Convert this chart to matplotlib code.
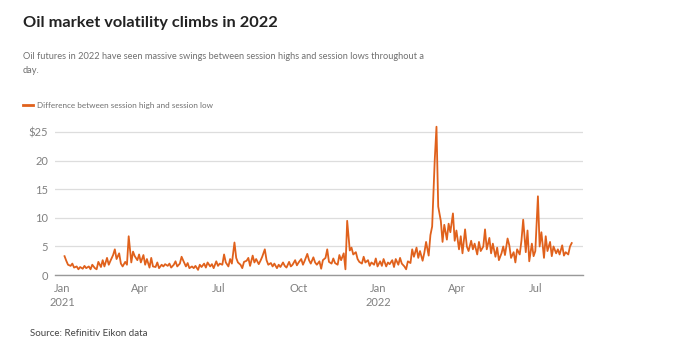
import matplotlib
matplotlib.use("Agg")
import matplotlib.pyplot as plt
import pandas as pd

# Values (Mon/Wed/Fri sampling), US$ per barrel
m2021 = {
    1: [3.3, 2.5, 1.8, 1.6, 2.0, 1.3, 1.5, 1.0, 1.4, 1.1, 1.6, 1.2],
    2: [1.5, 1.0, 1.8, 1.2, 1.0, 2.3, 1.4, 2.6, 1.5, 3.0, 1.8, 2.5],
    3: [3.5, 4.5, 2.8, 3.8, 2.0, 1.5, 2.3, 1.8, 6.8, 2.2, 4.1, 3.3, 2.6, 3.6],
    4: [2.2, 3.5, 1.8, 2.8, 1.3, 3.0, 1.5, 1.4, 2.2, 1.2, 1.8, 1.5, 1.9],
    5: [1.6, 2.0, 1.3, 1.8, 2.4, 1.5, 2.0, 3.2, 2.5, 1.5, 2.1, 1.2, 1.5],
    6: [1.2, 1.6, 0.9, 1.8, 1.4, 2.0, 1.3, 2.2, 1.5, 1.9, 1.2, 2.4, 1.6],
    7: [2.0, 1.8, 3.6, 2.2, 1.5, 2.8, 2.0, 5.7, 3.0, 2.2, 1.8, 1.2, 2.3],
    8: [2.5, 3.0, 1.6, 3.4, 2.2, 2.8, 1.9, 2.5, 3.2, 4.5, 2.6, 1.8, 2.1],
    9: [1.5, 2.0, 1.2, 1.8, 1.4, 2.2, 1.6, 1.3, 2.3, 1.5, 1.8, 2.6, 1.7],
    10: [2.2, 2.8, 1.8, 2.5, 3.7, 2.6, 2.0, 3.1, 2.2, 1.8, 2.4, 1.1, 2.6],
    11: [3.0, 4.5, 2.3, 2.0, 2.9, 2.1, 1.8, 3.5, 2.6, 3.8, 1.0, 9.5, 4.3],
    12: [4.8, 3.6, 4.0, 2.8, 2.3, 2.0, 3.2, 2.2, 2.6, 1.6, 2.2, 1.8, 2.9, 1.5],
}
m2022 = {
    1: [2.4, 1.6, 2.8, 1.5, 2.2, 1.9, 2.6, 1.4, 2.8, 1.8, 3.0, 2.0, 1.5],
    2: [1.0, 2.4, 2.1, 4.5, 3.2, 4.8, 3.0, 4.2, 2.5, 3.9, 5.8, 3.4],
    3: [7.0, 8.5, 20.2, 26.0, 12.0, 9.5, 5.8, 8.8, 6.2, 9.0, 7.5, 10.8, 6.0],
    4: [7.8, 4.5, 6.8, 3.8, 8.0, 5.0, 4.2, 6.0, 4.5, 5.5, 3.6, 5.8, 4.2],
    5: [5.0, 8.0, 4.5, 6.5, 3.8, 5.5, 3.2, 4.8, 2.6, 3.8, 5.0, 3.5, 6.4],
    6: [5.2, 3.0, 4.0, 2.2, 4.5, 3.6, 6.0, 9.7, 4.0, 7.8, 2.4, 5.5, 3.3],
    7: [4.2, 13.8, 5.0, 7.5, 3.0, 6.8, 4.2, 5.8, 3.3, 5.0, 3.8, 4.5, 3.6],
    8: [5.2, 3.4, 4.0, 3.6, 5.0, 5.6],
}

all_days = pd.bdate_range("2021-01-04", "2022-08-12")
mwf = all_days[all_days.weekday.isin([0, 2, 4])]

dates, values = [], []
for year, months in ((2021, m2021), (2022, m2022)):
    for month, vals in months.items():
        md = mwf[(mwf.year == year) & (mwf.month == month)]
        n = min(len(md), len(vals))
        dates.extend(md[:n])
        values.extend(vals[:n])

yticks = [0, 5, 10, 15, 20, 25]
ytick_labels = ["0", "5", "10", "15", "20", "$25"]
xtick_dates = ["2021-01-01", "2021-04-01", "2021-07-01", "2021-10-01",
               "2022-01-01", "2022-04-01", "2022-07-01"]
xtick_labels = ["Jan\n2021", "Apr", "Jul", "Oct", "Jan\n2022", "Apr", "Jul"]

title = "Oil market volatility climbs in 2022"
subtitle = ("Oil futures in 2022 have seen massive swings between session highs and session lows throughout a\n"
            "day.")
legend_label = "Difference between session high and session low"
source = "Source: Refinitiv Eikon data"

ORANGE = "#e0611c"
plt.rcParams["font.family"] = ["Lato", "DejaVu Sans"]

fig = plt.figure(figsize=(7.0, 3.55), dpi=100)
ax = fig.add_axes([55 / 700, 1 - 275 / 355, (583 - 55) / 700, (275 - 125) / 355])

ax.plot(pd.to_datetime(dates), values, color=ORANGE, lw=1.3, solid_joinstyle="round")

ax.set_ylim(0, 26.3)
x0 = pd.Timestamp("2021-01-01")
ax.set_xlim(x0 - pd.Timedelta(days=8), pd.Timestamp("2022-08-25"))

ax.set_yticks(yticks)
ax.set_yticklabels(ytick_labels)
ax.set_xticks(pd.to_datetime(xtick_dates))
ax.set_xticklabels(xtick_labels, linespacing=1.25)
ax.tick_params(axis="both", length=0, labelsize=8, colors="#808080")
ax.tick_params(axis="y", pad=5)
ax.tick_params(axis="x", pad=6)
for lab in ax.get_xticklabels():
    lab.set_horizontalalignment("center")
    lab.set_verticalalignment("top")

ax.grid(axis="y", color="#dddddd", lw=0.9)
ax.set_axisbelow(True)
for s in ["top", "right", "left"]:
    ax.spines[s].set_visible(False)
ax.spines["bottom"].set_color("#999999")
ax.spines["bottom"].set_linewidth(1.0)

fig.text(23 / 700, 1 - 23 / 355, title, fontsize=11.8, fontweight="bold",
         color="#222222", va="center", ha="left")
fig.text(23 / 700, 1 - 63.5 / 355, subtitle, fontsize=6.7, color="#707070",
         va="center", ha="left", linespacing=1.8)
fig.lines.append(plt.Line2D([23 / 700, 33 / 700], [1 - 105 / 355, 1 - 105 / 355],
                            transform=fig.transFigure, color=ORANGE, lw=2))
fig.text(37 / 700, 1 - 105 / 355, legend_label, fontsize=5.9, color="#707070",
         va="center", ha="left")
fig.text(30 / 700, 1 - 333 / 355, source, fontsize=7, color="#444444",
         va="center", ha="left")

fig.savefig("out.png", dpi=100, facecolor="white")
